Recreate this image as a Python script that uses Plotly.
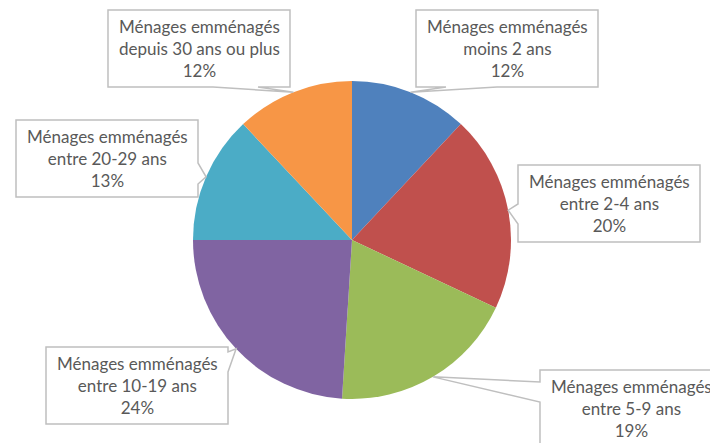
import math
import plotly.graph_objects as go

labels = ["Ménages emménagés<br>moins 2 ans",
          "Ménages emménagés<br>entre 2-4 ans",
          "Ménages emménagés<br>entre 5-9 ans",
          "Ménages emménagés<br>entre 10-19 ans",
          "Ménages emménagés<br>entre 20-29 ans",
          "Ménages emménagés<br>depuis 30 ans ou plus"]
values = [12, 20, 19, 24, 13, 12]
colors = ["#4F81BD", "#C0504D", "#9BBB59", "#8064A2", "#4BACC6", "#F79646"]

W, H = 710, 443
CX, CY, R = 352, 240, 159

# callout boxes (left, top) in pixels, and which side the pointer leaves from
boxes = [
    dict(x0=416, y0=10, side="bottom", b=(446, 497)),
    dict(x0=518, y0=165, side="left", b=(204, 224)),
    dict(x0=540, y0=370, side="left", b=(382, 402)),
    dict(x0=46, y0=347, side="right", b=(352, 372)),
    dict(x0=16, y0=120, side="right", b=(163, 184)),
    dict(x0=108, y0=10, side="bottom", b=(213, 258)),
]
BW, BH = 182, 77


def px(x, y):
    return x / W, 1 - y / H


fig = go.Figure(go.Pie(
    labels=labels, values=values, marker=dict(colors=colors, line=dict(width=0)),
    sort=False, direction="clockwise", rotation=0, textinfo="none",
    hoverinfo="label+percent",
    domain=dict(x=[(CX - R) / W, (CX + R) / W], y=[1 - (CY + R) / H, 1 - (CY - R) / H]),
))

total = sum(values)
cum = 0
shapes = []
annotations = []
for v, lab, bx in zip(values, labels, boxes):
    mid = (cum + v / 2) / total * 2 * math.pi
    cum += v
    tx = CX + R * math.sin(mid)
    ty = CY - R * math.cos(mid)
    x0, y0 = bx["x0"], bx["y0"]
    x1, y1 = x0 + BW, y0 + BH
    b1, b2 = bx["b"]
    if bx["side"] == "bottom":
        pts = [(x0, y0), (x1, y0), (x1, y1), (b2, y1), (tx, ty), (b1, y1), (x0, y1)]
    elif bx["side"] == "left":
        pts = [(x0, y0), (x1, y0), (x1, y1), (x0, y1), (x0, b2), (tx, ty), (x0, b1)]
    else:
        pts = [(x0, y0), (x1, y0), (x1, b1), (tx, ty), (x1, b2), (x1, y1), (x0, y1)]
    path = "M " + " L ".join(f"{px(a, b)[0]:.5f},{px(a, b)[1]:.5f}" for a, b in pts) + " Z"
    shapes.append(dict(type="path", xref="paper", yref="paper", path=path,
                       fillcolor="white", line=dict(color="#BFBFBF", width=1.5),
                       layer="above"))
    cx, cy = px((x0 + x1) / 2, (y0 + y1) / 2)
    annotations.append(dict(x=cx, y=cy, xref="paper", yref="paper",
                            text=f"{lab}<br>{round(v / total * 100)}%",
                            showarrow=False, xanchor="center", yanchor="middle",
                            font=dict(family="Lato", size=17, color="#595959")))

fig.update_layout(width=W, height=H, margin=dict(l=0, r=0, t=0, b=0),
                  paper_bgcolor="white", plot_bgcolor="white", showlegend=False,
                  shapes=shapes, annotations=annotations)
fig.write_html("out.html", config={"displayModeBar": False},
               post_script="document.body.style.margin='0';document.body.style.overflow='hidden';")
